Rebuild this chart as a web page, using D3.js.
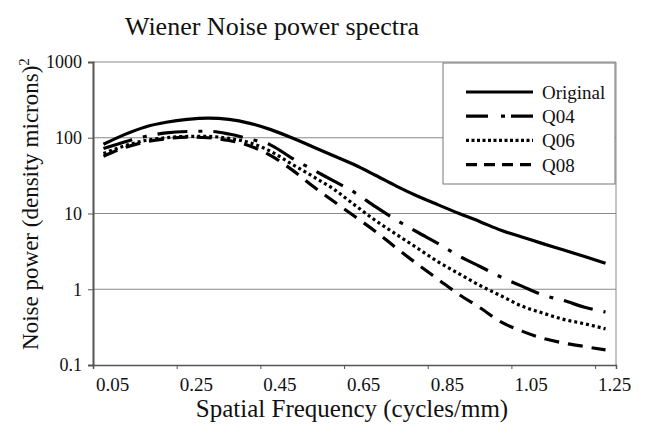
<!DOCTYPE html>
<html>
<head>
<meta charset="utf-8">
<script src="https://cdn.jsdelivr.net/npm/d3@7"></script>
<style>
  body { margin: 0; background: #fff; }
</style>
</head>
<body>
<svg id="chart" width="646" height="427"></svg>
<script>
// spatial frequency (cycles/mm), one point per category
var freqs = [0.05, 0.10, 0.15, 0.20, 0.25, 0.30, 0.35, 0.40, 0.45, 0.50,
             0.55, 0.60, 0.65, 0.70, 0.75, 0.80, 0.85, 0.90, 0.95, 1.00,
             1.05, 1.10, 1.15, 1.20, 1.25];

var original = [82, 110, 139, 160, 175, 182, 175, 155, 128, 100,
                76, 58, 44, 32, 23, 17, 13, 10, 7.8, 6.0,
                4.9, 4.0, 3.3, 2.7, 2.2];
var q04 = [72, 88, 104, 116, 121, 122, 112, 96, 80, 54,
           38, 27, 19, 12.3, 8.2, 5.7, 4.0, 2.75, 2.0, 1.45,
           1.1, 0.84, 0.71, 0.58, 0.50];
var q06 = [62, 78, 92, 100, 104, 104, 98, 86, 66, 45,
           31, 21, 13, 8.1, 5.3, 3.5, 2.3, 1.6, 1.12, 0.82,
           0.60, 0.485, 0.40, 0.35, 0.30];
var q08 = [57, 74, 88, 97, 102, 100, 92, 78, 58, 38,
           23, 14.5, 9.2, 5.8, 3.5, 2.15, 1.35, 0.85, 0.57, 0.37,
           0.28, 0.225, 0.195, 0.175, 0.158];

var seriesNames = ["Original", "Q04", "Q06", "Q08"];
var xTickLabels = ["0.05", "0.25", "0.45", "0.65", "0.85", "1.05", "1.25"];
var yTicks = [0.1, 1, 10, 100, 1000];

var FONT = "'Liberation Serif', 'Times New Roman', 'DejaVu Serif', serif";

var svg = d3.select("#chart");
var margin = {left: 93, right: 30, top: 62, bottom: 62};
var x0 = margin.left, x1 = 646 - margin.right,
    y0 = 427 - margin.bottom, y1 = margin.top;

var xScale = d3.scaleLinear().domain([0.025, 1.275]).range([x0, x1]);
var yScale = d3.scaleLog().domain([0.1, 1000]).range([y0, y1]);

// gridlines
svg.append("g")
  .selectAll("line")
  .data(yTicks.slice(1))
  .enter().append("line")
    .attr("x1", x0).attr("x2", x1)
    .attr("y1", function(d){ return yScale(d); })
    .attr("y2", function(d){ return yScale(d); })
    .attr("stroke", "#8a8a8a").attr("stroke-width", 1);

// right border
svg.append("line")
  .attr("x1", x1).attr("x2", x1).attr("y1", y1).attr("y2", y0)
  .attr("stroke", "#8a8a8a").attr("stroke-width", 1);

// y axis
var yAx = svg.append("g")
  .attr("transform", "translate(" + x0 + ",0)")
  .call(d3.axisLeft(yScale).tickValues(yTicks).tickSize(5).tickPadding(6)
        .tickFormat(function(d){ return String(d); }));
yAx.attr("font-family", FONT).attr("font-size", 18);
yAx.select(".domain").attr("stroke", "#555").attr("stroke-width", 2);
yAx.selectAll(".tick line").attr("stroke", "#555");
yAx.selectAll("text").attr("fill", "#111");

// x axis: ticks between categories, labels per category
var boundaries = xTickLabels.map(function(l){ return +l - 0.025; }).concat([1.275]);
var xAx = svg.append("g")
  .attr("transform", "translate(0," + y0 + ")")
  .call(d3.axisBottom(xScale).tickValues(boundaries).tickSize(4).tickFormat(""));
xAx.select(".domain").attr("stroke", "#555").attr("stroke-width", 1.5);
xAx.selectAll(".tick line").attr("stroke", "#555");

svg.append("g")
  .selectAll("text")
  .data(xTickLabels)
  .enter().append("text")
    .attr("x", function(d){ return xScale(+d - 0.025) + 3; })
    .attr("y", y0 + 26)
    .attr("font-family", FONT)
    .attr("font-size", 19)
    .attr("fill", "#111")
    .text(function(d){ return d; });

// series lines
var styles = [
  {data: original, dash: null},
  {data: q04, dash: "30,11,4,11"},
  {data: q06, dash: "3,3"},
  {data: q08, dash: "15,9"}
];

var line = d3.line()
  .x(function(d, i){ return xScale(freqs[i]); })
  .y(function(d){ return yScale(d); })
  .curve(d3.curveMonotoneX);

svg.append("g")
  .selectAll("path")
  .data(styles)
  .enter().append("path")
    .attr("d", function(s){ return line(s.data); })
    .attr("fill", "none")
    .attr("stroke", "#000")
    .attr("stroke-width", 3.2)
    .attr("stroke-dasharray", function(s){ return s.dash; });

// legend
var lg = svg.append("g");
lg.append("rect")
  .attr("x", 443).attr("y", 63).attr("width", 172).attr("height", 121)
  .attr("fill", "#fff").attr("stroke", "#777").attr("stroke-width", 1);

var legendDash = [null, "22,13,4,6", "3,2.5", "11,7"];
var rows = lg.selectAll("g.row")
  .data(seriesNames)
  .enter().append("g")
    .attr("transform", function(d, i){ return "translate(0," + (92 + i * 24.2) + ")"; });
rows.append("line")
  .attr("x1", 466).attr("x2", 533).attr("y1", 0).attr("y2", 0)
  .attr("stroke", "#000").attr("stroke-width", 3.2)
  .attr("stroke-dasharray", function(d, i){ return legendDash[i]; });
rows.append("text")
  .attr("x", 542).attr("y", 7)
  .attr("font-family", FONT)
  .attr("font-size", 19)
  .attr("fill", "#111")
  .text(function(d){ return d; });

// titles
svg.append("text")
  .attr("x", 272).attr("y", 35)
  .attr("text-anchor", "middle")
  .attr("font-family", FONT)
  .attr("font-size", 26)
  .attr("fill", "#111")
  .text("Wiener Noise power spectra");

svg.append("text")
  .attr("x", 352).attr("y", 417)
  .attr("text-anchor", "middle")
  .attr("font-family", FONT)
  .attr("font-size", 25)
  .attr("fill", "#111")
  .text("Spatial Frequency (cycles/mm)");

svg.append("text")
  .attr("transform", "translate(38,204) rotate(-90)")
  .attr("text-anchor", "middle")
  .attr("font-family", FONT)
  .attr("font-size", 23)
  .attr("fill", "#111")
  .text("Noise power (density microns)")
  .append("tspan")
    .attr("dy", -9)
    .attr("font-size", 15)
    .text("2");
</script>
</body>
</html>
